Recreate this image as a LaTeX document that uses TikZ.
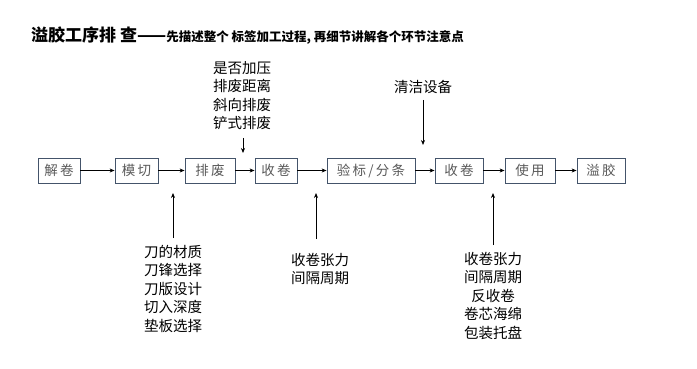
\documentclass[tikz,border=0pt]{standalone}
\usepackage{fontspec}
\setmainfont{Noto Sans CJK SC}
\usetikzlibrary{arrows.meta}
\definecolor{boxline}{HTML}{44546A}
\definecolor{boxtext}{HTML}{595959}
\tikzset{
  stepbox/.style={draw=boxline, line width=0.8pt, minimum height=25pt, inner sep=0pt,
    text=boxtext, font=\fontsize{13.5}{13.5}\selectfont},
  flow/.style={-{Stealth[length=5pt,width=4pt]}, line width=0.7pt, black},
  note/.style={align=center, inner sep=0pt, font=\fontsize{14.5}{18.5}\selectfont},
}
\begin{document}
\begin{tikzpicture}[x=1pt,y=-1pt]
\useasboundingbox (0,0) rectangle (697,369);
% title
\node[anchor=west, inner sep=0pt] (title) at (31,36)
  {{\fontsize{17}{17}\selectfont\bfseries 溢胶工序排 查——}{\fontsize{12.5}{12.5}\selectfont\bfseries 先描述整个 标签加工过程, 再细节讲解各个环节注意点}};
% process boxes
\node[stepbox, minimum width=42pt] (s1) at (59,170.5) {解\,卷};
\node[stepbox, minimum width=43pt] (s2) at (136.5,170.5) {模\,切};
\node[stepbox, minimum width=50pt] (s3) at (210,170.5) {排\,废};
\node[stepbox, minimum width=42pt] (s4) at (276,170.5) {收\,卷};
\node[stepbox, minimum width=88pt] (s5) at (371,170.5) {验\,标\,/\,分\,条};
\node[stepbox, minimum width=48pt] (s6) at (459,170.5) {收\,卷};
\node[stepbox, minimum width=50pt] (s7) at (530,170.5) {使\,用};
\node[stepbox, minimum width=48pt] (s8) at (601,170.5) {溢\,胶};
\foreach \a/\b in {s1/s2,s2/s3,s3/s4,s4/s5,s5/s6,s6/s7,s7/s8}
  \draw[flow] (\a.east) -- (\b.west);
% notes
\node[note] (t1) at (242,95.5) {是否加压\\排废距离\\斜向排废\\铲式排废};
\node[note] (t2) at (423,87) {清洁设备};
\node[note] (b1) at (173,288.5) {刀的材质\\刀锋选择\\刀版设计\\切入深度\\垫板选择};
\node[note] (b2) at (320,269) {收卷张力\\间隔周期};
\node[note] (b3) at (493,296) {收卷张力\\间隔周期\\反收卷\\卷芯海绵\\包装托盘};
% note arrows
\coordinate (e1) at (243,153);
\coordinate (f1) at (243,138);
\coordinate (e2) at (423,145);
\coordinate (f2) at (423,100);
\coordinate (e3) at (173,193);
\coordinate (f3) at (173,238);
\coordinate (e4) at (316,193);
\coordinate (f4) at (316,239);
\coordinate (e5) at (493,193);
\coordinate (f5) at (493,245);
\draw[flow] (f1) -- (e1);
\draw[flow] (f2) -- (e2);
\draw[flow] (f3) -- (e3);
\draw[flow] (f4) -- (e4);
\draw[flow] (f5) -- (e5);
\end{tikzpicture}
\end{document}
